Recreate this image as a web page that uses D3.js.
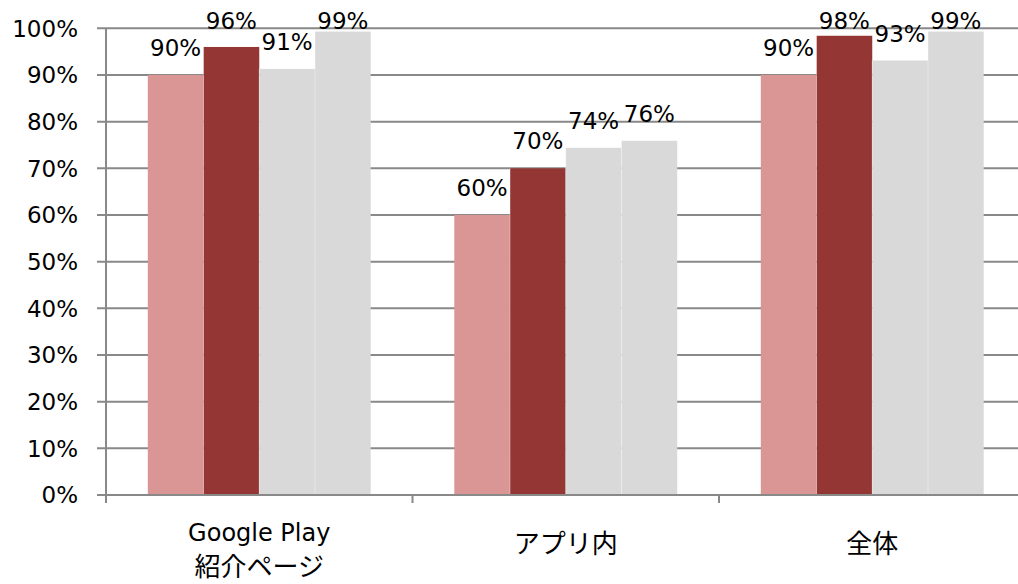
<!DOCTYPE html>
<html>
<head>
<meta charset="utf-8">
<script src="https://cdn.jsdelivr.net/npm/d3@7"></script>
<style>
  html, body { margin: 0; padding: 0; background: #fff; }
  svg { display: block; }
  text { font-family: "DejaVu Sans", "Noto Sans CJK JP", sans-serif; fill: #000; }
</style>
</head>
<body>
<svg id="chart" width="1018" height="584"></svg>
<script>
// Categories (multi-line labels) and the four series per category
const categories = ["Google Play\n紹介ページ", "アプリ内", "全体"];
const seriesNames = ["s1", "s2", "s3", "s4"];
const seriesColors = ["#d99694", "#943634", "#d9d9d9", "#d9d9d9"];
const s1 = [0.90, 0.60, 0.90];
const s2 = [0.96, 0.70, 0.984];
const s3 = [0.913, 0.744, 0.931];
const s4 = [0.993, 0.759, 0.993];
const yTicks = [0, 0.1, 0.2, 0.3, 0.4, 0.5, 0.6, 0.7, 0.8, 0.9, 1.0];

const seriesValues = [s1, s2, s3, s4];
const rows = categories.map((c, i) => ({
  cat: c,
  vals: seriesNames.map((s, j) => ({ key: s, value: seriesValues[j][i], color: seriesColors[j] }))
}));

const svg = d3.select("#chart");
const margin = { left: 106, top: 28.3, bottom: 89 };
const plotRight = 1025.5;
const H = 584;

const x0 = d3.scaleBand().domain(categories).range([margin.left, plotRight]).padding(0);
const x1 = d3.scaleBand().domain(seriesNames).range([0, x0.bandwidth()])
  .paddingInner(0).paddingOuter(0.75);
const y = d3.scaleLinear().domain([0, 1]).range([H - margin.bottom, margin.top]);

const gridColor = "#898989";
const fmt = d3.format(".0%");
const labelSize = "23px";

// Horizontal gridlines with left tick marks
svg.append("g")
  .selectAll("line")
  .data(yTicks)
  .join("line")
  .attr("x1", margin.left - 9)
  .attr("x2", plotRight)
  .attr("y1", d => y(d))
  .attr("y2", d => y(d))
  .attr("stroke", gridColor)
  .attr("stroke-width", 2);

// Y tick labels
svg.append("g")
  .selectAll("text")
  .data(yTicks)
  .join("text")
  .attr("x", 78)
  .attr("y", d => y(d))
  .attr("dy", "0.36em")
  .attr("text-anchor", "end")
  .style("font-size", labelSize)
  .text(d => fmt(d));

// Bars
const groups = svg.append("g")
  .selectAll("g")
  .data(rows)
  .join("g")
  .attr("transform", d => `translate(${x0(d.cat)},0)`);

groups.selectAll("rect")
  .data(d => d.vals)
  .join("rect")
  .attr("x", d => x1(d.key))
  .attr("width", x1.bandwidth())
  .attr("y", d => y(d.value))
  .attr("height", d => y(0) - y(d.value))
  .attr("fill", d => d.color);

// Thin light separators between adjacent bars
groups.selectAll("line.sep")
  .data(d => d.vals.slice(1))
  .join("line")
  .attr("class", "sep")
  .attr("x1", d => x1(d.key))
  .attr("x2", d => x1(d.key))
  .attr("y1", d => y(d.value))
  .attr("y2", y(0))
  .attr("stroke", "#ffffff")
  .attr("stroke-opacity", 0.35)
  .attr("stroke-width", 1);

// Axes lines (x axis + y axis) and x tick marks at category boundaries
svg.append("line")
  .attr("x1", margin.left - 9).attr("x2", plotRight)
  .attr("y1", y(0)).attr("y2", y(0))
  .attr("stroke", gridColor).attr("stroke-width", 2);
svg.append("line")
  .attr("x1", margin.left).attr("x2", margin.left)
  .attr("y1", y(1)).attr("y2", y(0) + 8)
  .attr("stroke", gridColor).attr("stroke-width", 2);
const boundaries = categories.map(c => x0(c)).concat([x0(categories[categories.length - 1]) + x0.bandwidth()]);
svg.append("g")
  .selectAll("line")
  .data(boundaries)
  .join("line")
  .attr("x1", d => d).attr("x2", d => d)
  .attr("y1", y(0)).attr("y2", y(0) + 8)
  .attr("stroke", gridColor).attr("stroke-width", 2);

// Value labels above bars, kept inside the plot top
groups.selectAll("text.val")
  .data(d => d.vals)
  .join("text")
  .attr("class", "val")
  .attr("x", d => x1(d.key) + x1.bandwidth() / 2)
  .attr("y", d => Math.max(y(d.value) - 19, y(1) + 0.5))
  .attr("text-anchor", "middle")
  .style("font-size", labelSize)
  .text(d => fmt(d.value));

// Category labels (line-split)
const catG = svg.append("g")
  .selectAll("text")
  .data(categories)
  .join("text")
  .attr("text-anchor", "middle")
  .attr("x", d => x0(d) + x0.bandwidth() / 2)
  .attr("y", d => d.includes("\n") ? 541 : 553);

catG.selectAll("tspan")
  .data(d => d.split("\n").map((t, i) => ({ t, i })))
  .join("tspan")
  .attr("x", function () { return d3.select(this.parentNode).attr("x"); })
  .attr("dy", d => d.i === 0 ? 0 : 35)
  .style("font-size", d => /[\u3000-\u9fff]/.test(d.t) ? "26px" : "24px")
  .text(d => d.t);
</script>
</body>
</html>
